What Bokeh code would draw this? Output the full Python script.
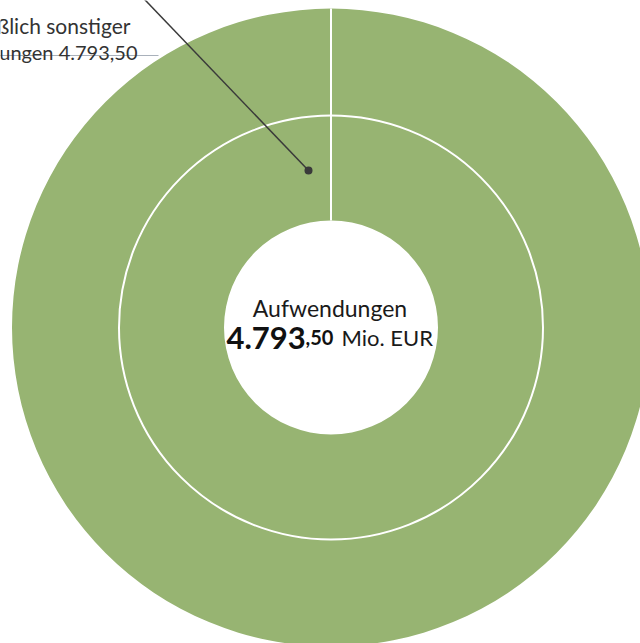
import numpy as np
from bokeh.plotting import figure
from bokeh.models import Range1d
from bokeh.core.properties import value
from bokeh.embed import file_html
from bokeh.resources import INLINE

# data
outer_labels = ["Einschließlich sonstiger Aufwendungen"]
outer_values = [4793.50]
inner_labels = ["Einschließlich sonstiger Aufwendungen"]
inner_values = [4793.50]
total_label = "Aufwendungen"
total_value = 4793.50
unit = "Mio. EUR"

GREEN = "#97b472"
W, H = 640, 643
p = figure(width=W, height=H, output_backend="svg", toolbar_location=None,
           x_range=Range1d(0, W), y_range=Range1d(0, H),
           min_border=0, outline_line_color=None)
p.axis.visible = False
p.grid.visible = False
p.background_fill_color = "white"

cx, cy = 330.5, 316
r_hole, r_mid, r_out = 107, 212, 319

def ring(vals):
    tot = sum(vals)
    starts, ends = [], []
    a = np.pi / 2
    for v in vals:
        starts.append(a)
        a = a - 2 * np.pi * v / tot
        ends.append(a)
    return starts, ends

for vals, r0, r1 in [(outer_values, r_mid, r_out), (inner_values, r_hole, r_mid)]:
    s, e = ring(vals)
    if len(vals) == 1:
        p.annulus(x=[cx], y=[cy], inner_radius=r0, outer_radius=r1,
                  fill_color=GREEN, line_color=None)
    else:
        p.annular_wedge(x=cx, y=cy, inner_radius=r0, outer_radius=r1,
                        start_angle=e, end_angle=s, fill_color=GREEN,
                        line_color="white", line_width=2)
    xs0 = [cx + r0 * np.cos(a) for a in s]
    ys0 = [cy + r0 * np.sin(a) for a in s]
    xs1 = [cx + r1 * np.cos(a) for a in s]
    ys1 = [cy + r1 * np.sin(a) for a in s]
    p.segment(x0=xs0, y0=ys0, x1=xs1, y1=ys1, line_color="white", line_width=2)

p.circle(x=[cx], y=[cy], radius=r_mid, fill_color=None, line_color="white", line_width=2)

# leader line and label
dot_x, dot_y = 308, 473
p.line(x=[dot_x, 124], y=[dot_y, 665], line_color="#3a3a3a", line_width=1.5)
p.scatter(x=[dot_x], y=[dot_y], size=8, fill_color="#3a3a3a", line_color=None)
p.line(x=[-10, 158], y=[588, 588], line_color="#a9b1bb", line_width=1.2)

lab_words = outer_labels[0].split(" ")
line1 = " ".join(lab_words[:2])
line2 = lab_words[2] + " " + f"{outer_values[0]:,.2f}".replace(",", "X").replace(".", ",").replace("X", ".")
p.text(x=[130], y=[618], text=[line1], text_font=value("Lato"), text_font_size=value("21px"),
       text_align="right", text_baseline="alphabetic", text_color="#333333")
p.text(x=[137], y=[592], text=[line2], text_font=value("Lato"), text_font_size=value("20px"),
       text_align="right", text_baseline="alphabetic", text_color="#333333")

# center text
p.text(x=[cx - 1], y=[336], text=[total_label], text_font=value("Lato"), text_font_size=value("23px"),
       text_align="center", text_baseline="alphabetic", text_color="#1a1a1a")
int_part = f"{int(total_value):,}".replace(",", ".")
dec_part = "," + f"{total_value:.2f}".split(".")[1]
p.text(x=[226], y=[306], text=[int_part], text_font=value("Lato"), text_font_size=value("31px"),
       text_font_style="bold", text_align="left", text_baseline="alphabetic", text_color="#111111")
p.text(x=[305], y=[306], text=[dec_part], text_font=value("Lato"), text_font_size=value("20px"),
       text_font_style="bold", text_align="left", text_baseline="alphabetic", text_color="#111111")
p.text(x=[341], y=[306], text=[unit], text_font=value("Lato"), text_font_size=value("22px"),
       text_align="left", text_baseline="alphabetic", text_color="#1a1a1a")

open("out.html", "w").write(file_html(p, INLINE))
